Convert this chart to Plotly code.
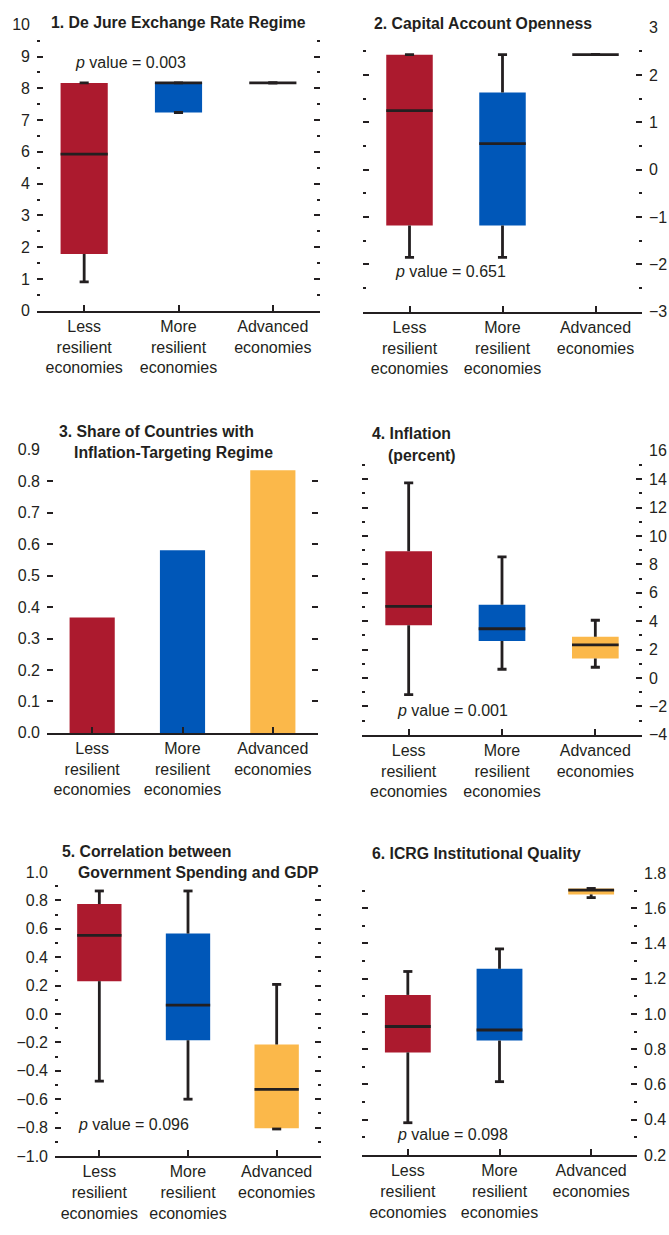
import plotly.graph_objects as go

W, H = 669, 1235
FONT = "Liberation Sans, Arial, sans-serif"
TFONT = "Liberation Sans, Arial, sans-serif"
INK = "#231F20"
RED, BLUE, GOLD = "#AC1A2E", "#0057B8", "#FBB84A"

# ---------------- data ----------------
categories = ["Less<br>resilient<br>economies", "More<br>resilient<br>economies", "Advanced<br>economies"]
xpos = [0, 1, 2]
colors = [RED, BLUE, GOLD]

# Panel 1: values in axis positions (printed labels skip "5")
p1_tickvals = [0, 1, 2, 3, 4, 5, 6, 7, 8, 9]
p1_ticktext = ["0", "1", "2", "3", "4", "6", "7", "8", "9", "10"]
p1_lo = [0.91, 6.24, 7.17]
p1_q1 = [1.79, 6.24, 7.17]
p1_med = [4.93, 7.17, 7.17]
p1_q3 = [7.17, 7.17, 7.17]
p1_hi = [7.17, 7.17, 7.17]

# Panel 2
p2_lo = [-1.85, -1.85, 2.43]
p2_q1 = [-1.18, -1.18, 2.43]
p2_med = [1.25, 0.55, 2.43]
p2_q3 = [2.43, 1.63, 2.43]
p2_hi = [2.43, 2.43, 2.43]

# Panel 3
p3_share = [0.367, 0.581, 0.835]

# Panel 4
p4_lo = [-1.17, 0.62, 0.76]
p4_q1 = [3.72, 2.61, 1.38]
p4_med = [5.05, 3.47, 2.33]
p4_q3 = [8.92, 5.16, 2.91]
p4_hi = [13.74, 8.53, 4.07]

# Panel 5
p5_lo = [-0.473, -0.60, -0.81]
p5_q1 = [0.231, -0.185, -0.804]
p5_med = [0.554, 0.062, -0.531]
p5_q3 = [0.774, 0.566, -0.215]
p5_hi = [0.866, 0.866, 0.208]

# Panel 6
p6_lo = [0.383, 0.616, 1.660]
p6_q1 = [0.782, 0.849, 1.678]
p6_med = [0.929, 0.909, 1.703]
p6_q3 = [1.108, 1.256, 1.712]
p6_hi = [1.241, 1.369, 1.712]

p_values = ["0.003", "0.651", "0.001", "0.096", "0.098"]

# ---------------- figure ----------------
fig = go.Figure()

BOXW = 0.5
LW = 2.8


def add_box(n, lo, q1, med, q3, hi):
    xa, ya = ("x", "y") if n == 1 else (f"x{n}", f"y{n}")
    fig.add_trace(go.Bar(x=xpos, y=[b - a for a, b in zip(q1, q3)], base=q1, width=BOXW,
                         marker=dict(color=colors, line=dict(width=0)),
                         xaxis=xa, yaxis=ya, hoverinfo="skip"))
    wx, wy = [], []
    for i in range(len(xpos)):
        wx += [xpos[i], xpos[i], None, xpos[i], xpos[i], None]
        wy += [q3[i], hi[i], None, q1[i], lo[i], None]
    fig.add_trace(go.Scatter(x=wx, y=wy, mode="lines", line=dict(color=INK, width=LW),
                             xaxis=xa, yaxis=ya, hoverinfo="skip"))
    fig.add_trace(go.Scatter(x=xpos + xpos, y=hi + lo, mode="markers",
                             marker=dict(symbol="line-ew", size=6.5,
                                         line=dict(color=INK, width=LW)),
                             xaxis=xa, yaxis=ya, hoverinfo="skip"))
    fig.add_trace(go.Scatter(x=xpos, y=med, mode="markers",
                             marker=dict(size=1, opacity=0),
                             error_x=dict(type="constant", value=BOXW / 2, width=0,
                                          thickness=LW, color=INK),
                             xaxis=xa, yaxis=ya, hoverinfo="skip"))


add_box(1, p1_lo, p1_q1, p1_med, p1_q3, p1_hi)
add_box(2, p2_lo, p2_q1, p2_med, p2_q3, p2_hi)
fig.add_trace(go.Bar(x=xpos, y=p3_share, width=BOXW, marker=dict(color=colors, line=dict(width=0)),
                     xaxis="x3", yaxis="y3", hoverinfo="skip"))
add_box(4, p4_lo, p4_q1, p4_med, p4_q3, p4_hi)
add_box(5, p5_lo, p5_q1, p5_med, p5_q3, p5_hi)
add_box(6, p6_lo, p6_q1, p6_med, p6_q3, p6_hi)

# panel pixel boxes: (x0, x1, ytop, ybottom)
boxes = {
    1: (37, 320, 17, 307),
    2: (363, 642, 20, 308),
    3: (47, 318, 448, 735),
    4: (362, 642, 449, 737),
    5: (55, 321, 876, 1164),
    6: (362, 637, 877, 1163),
}

yspecs = {
    1: dict(range=[0, 9], tickmode="array", tickvals=p1_tickvals, ticktext=p1_ticktext, side="left",
            minor=dict(tickmode="array", tickvals=[v + 0.5 for v in p1_tickvals[:-1]])),
    2: dict(range=[-3, 3], dtick=1, tick0=0, side="right", minor=dict(dtick=0.5, tick0=0)),
    3: dict(range=[0, 0.9], dtick=0.1, tick0=0, tickformat=".1f", side="left"),
    4: dict(range=[-4, 16], dtick=2, tick0=0, side="right", minor=dict(dtick=1, tick0=0)),
    5: dict(range=[-1, 1], dtick=0.2, tick0=0, tickformat=".1f", side="left", minor=dict(dtick=0.1, tick0=0)),
    6: dict(range=[0.2, 1.8], dtick=0.2, tick0=0.2, tickformat=".1f", side="right", minor=dict(dtick=0.1, tick0=0.2)),
}

layout = {}
for n, (x0, x1, yt, yb) in boxes.items():
    sx = "" if n == 1 else str(n)
    layout["xaxis" + sx] = dict(
        domain=[x0 / W, x1 / W], anchor="y" + sx, range=[-0.5, 2.5],
        tickmode="array", tickvals=xpos, ticktext=categories,
        showline=True, linecolor=INK, linewidth=1.5, ticks="inside", ticklen=6, tickwidth=1.5,
        tickcolor=INK, showgrid=False, zeroline=False, fixedrange=True,
        tickfont=dict(family=FONT, size=16, color=INK),
    )
    ys = yspecs[n]
    minor = ys.pop("minor", None)
    yd = dict(
        domain=[1 - yb / H, 1 - yt / H], anchor="x" + sx,
        showline=False, showgrid=False, zeroline=False, ticks="inside", ticklen=6, tickwidth=1.5,
        tickcolor=INK, mirror="ticks", fixedrange=True, ticklabelstandoff=6,
        tickfont=dict(family=FONT, size=16, color=INK),
        **ys,
    )
    if minor:
        minor.update(ticks="inside", ticklen=3, tickwidth=1.5, tickcolor=INK, showgrid=False)
        yd["minor"] = minor
    layout["yaxis" + sx] = yd

annotations = []
titles = [
    ("1. De Jure Exchange Rate Regime", 49, 15),
    ("2. Capital Account Openness", 372, 16),
    ("3. Share of Countries with", 57, 429),
    ("Inflation-Targeting Regime", 72, 451),
    ("4. Inflation", 370, 431),
    ("(percent)", 386, 454),
    ("5. Correlation between", 60, 855),
    ("Government Spending and GDP", 76, 877),
    ("6. ICRG Institutional Quality", 370, 857),
]
for t, x, y in titles:
    annotations.append(dict(text=t, x=x / W, y=1 - y / H, xref="paper", yref="paper",
                            xanchor="left", yanchor="middle", showarrow=False,
                            font=dict(family=TFONT, size=15.8, color=INK, weight="bold")))

p_pos = [(130, 55), (450, 267), (452, 712), (133, 1132), (453, 1142)]
for pv, (x, y) in zip(p_values, p_pos):
    annotations.append(dict(text=f"<i>p</i> value = {pv}", x=x / W, y=1 - y / H, xref="paper", yref="paper",
                            xanchor="center", yanchor="middle", showarrow=False,
                            font=dict(family=FONT, size=16, color=INK)))

fig.update_layout(
    width=W, height=H, margin=dict(l=0, r=0, t=0, b=0), autosize=False,
    paper_bgcolor="white", plot_bgcolor="white", showlegend=False,
    barmode="overlay", annotations=annotations, **layout,
)

fig.write_html("out.html", config={"displayModeBar": False})
